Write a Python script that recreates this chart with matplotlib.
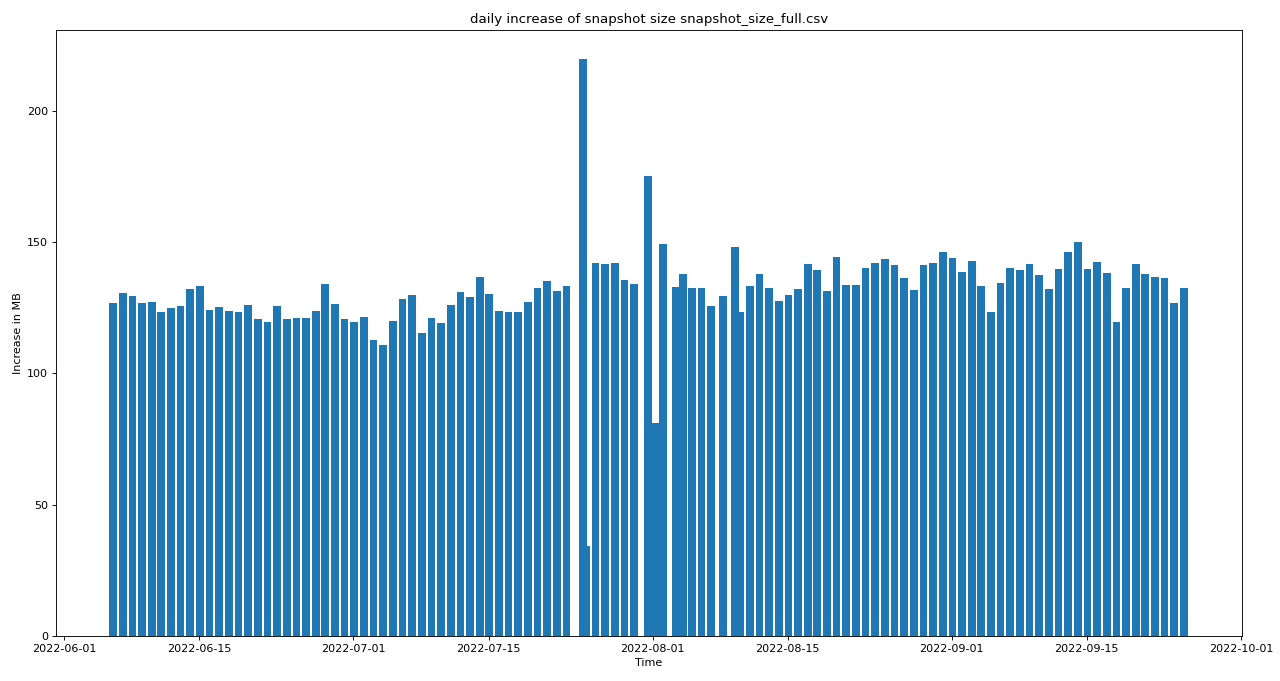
import pandas as pd
import matplotlib
matplotlib.use("Agg")
import matplotlib.pyplot as plt

# timestamps of the snapshots (rows kept in file order, a few came in late)
times = [
    "2022-06-06 02:00", "2022-06-07 02:00", "2022-06-08 02:00", "2022-06-09 02:00",
    "2022-06-10 02:00", "2022-06-11 02:00", "2022-06-12 02:00", "2022-06-13 02:00",
    "2022-06-14 02:00", "2022-06-15 02:00", "2022-06-16 02:00", "2022-06-17 02:00",
    "2022-06-18 02:00", "2022-06-19 02:00", "2022-06-20 02:00", "2022-06-21 02:00",
    "2022-06-22 02:00", "2022-06-23 02:00", "2022-06-24 02:00", "2022-06-25 02:00",
    "2022-06-26 02:00", "2022-06-27 02:00", "2022-06-28 02:00", "2022-06-29 02:00",
    "2022-06-30 02:00", "2022-07-01 02:00", "2022-07-02 02:00", "2022-07-03 02:00",
    "2022-07-04 02:00", "2022-07-05 02:00", "2022-07-06 02:00", "2022-07-07 02:00",
    "2022-07-08 02:00", "2022-07-09 02:00", "2022-07-10 02:00", "2022-07-11 02:00",
    "2022-07-12 02:00", "2022-07-13 02:00", "2022-07-14 02:00", "2022-07-15 02:00",
    "2022-07-16 02:00", "2022-07-17 02:00", "2022-07-18 02:00", "2022-07-19 02:00",
    "2022-07-20 02:00", "2022-07-21 02:00", "2022-07-22 02:00", "2022-07-23 02:00",
    "2022-07-25 02:00", "2022-07-24 19:00", "2022-07-26 02:00", "2022-07-27 02:00",
    "2022-07-28 02:00", "2022-07-29 02:00", "2022-07-30 02:00", "2022-07-31 12:00",
    "2022-08-01 07:00", "2022-08-02 02:00", "2022-08-03 09:30", "2022-08-04 03:20",
    "2022-08-05 02:00", "2022-08-06 02:00", "2022-08-07 02:00", "2022-08-08 08:00",
    "2022-08-10 02:00", "2022-08-09 13:00", "2022-08-11 02:00", "2022-08-12 02:00",
    "2022-08-13 02:00", "2022-08-14 02:00", "2022-08-15 02:00", "2022-08-16 02:00",
    "2022-08-17 02:00", "2022-08-18 02:00", "2022-08-19 02:00", "2022-08-20 02:00",
    "2022-08-21 02:00", "2022-08-22 02:00", "2022-08-23 02:00", "2022-08-24 02:00",
    "2022-08-25 02:00", "2022-08-26 02:00", "2022-08-27 02:00", "2022-08-28 02:00",
    "2022-08-29 02:00", "2022-08-30 02:00", "2022-08-31 02:00", "2022-09-01 02:00",
    "2022-09-02 02:00", "2022-09-03 02:00", "2022-09-04 02:00", "2022-09-05 02:00",
    "2022-09-06 02:00", "2022-09-07 02:00", "2022-09-08 02:00", "2022-09-09 02:00",
    "2022-09-10 02:00", "2022-09-11 02:00", "2022-09-12 02:00", "2022-09-13 02:00",
    "2022-09-14 02:00", "2022-09-15 02:00", "2022-09-16 02:00", "2022-09-17 02:00",
    "2022-09-18 02:00", "2022-09-19 02:00", "2022-09-20 02:00", "2022-09-21 02:00",
    "2022-09-22 02:00", "2022-09-23 02:00", "2022-09-24 02:00", "2022-09-25 02:00",
]

# increase in MB per snapshot
increase_mb = [
    126.7, 130.5, 129.6, 127.0, 127.2, 123.5, 124.8, 125.7,
    132.3, 133.1, 124.2, 125.1, 123.9, 123.3, 126.0, 120.9,
    119.4, 125.5, 120.9, 121.1, 121.1, 123.9, 134.2, 126.4,
    120.6, 119.4, 121.4, 112.6, 110.9, 120.0, 128.4, 129.8,
    115.2, 121.1, 119.1, 126.1, 130.9, 129.1, 136.8, 130.3,
    123.9, 123.5, 123.3, 127.2, 132.4, 135.1, 131.5, 133.1,
    34.4, 219.8, 142.2, 141.6, 142.2, 135.6, 134.0, 175.0,
    81.3, 149.3, 132.8, 137.9, 132.4, 132.4, 125.7, 129.6,
    123.3, 148.3, 133.3, 137.7, 132.4, 127.6, 130.0, 132.1,
    141.6, 139.4, 131.2, 144.5, 133.7, 133.7, 140.3, 142.2,
    143.5, 141.3, 136.4, 131.8, 141.3, 142.2, 146.2, 144.0,
    138.5, 142.9, 133.3, 123.4, 134.3, 140.1, 139.4, 141.6,
    137.3, 132.1, 139.7, 146.2, 150.0, 139.7, 142.5, 138.2,
    119.6, 132.4, 141.6, 137.9, 136.9, 136.3, 127.0, 132.7,
]

filename = "snapshot_size_full.csv"

df = pd.DataFrame({"time": pd.to_datetime(times), "increase": increase_mb})

# original was rendered at a lower dpi, so text is a bit smaller than default
fig, ax = plt.subplots(figsize=(16, 8.5125), dpi=80)
ax.bar(df["time"], df["increase"])

ax.set_xlim(pd.Timestamp("2022-05-31 04:00"), pd.Timestamp("2022-10-01 02:30"))
ax.set_xlabel("Time")
ax.set_ylabel("Increase in MB")
ax.set_title(f"daily increase of snapshot size {filename}")

plt.subplots_adjust(left=0.04375, right=0.9703, bottom=0.0661, top=0.956)
plt.savefig("out.png", dpi=80)
